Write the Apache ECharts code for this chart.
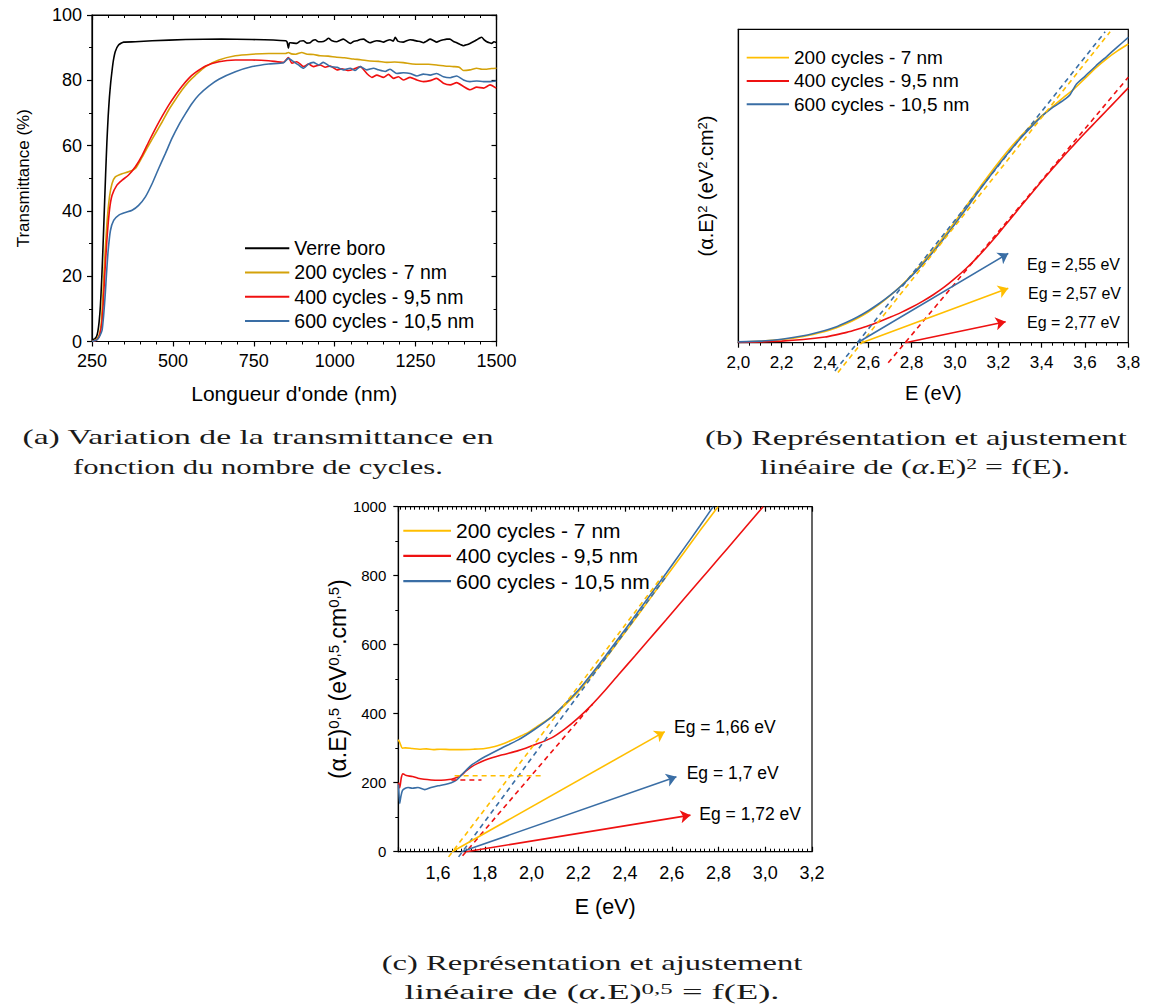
<!DOCTYPE html>
<html><head><meta charset="utf-8">
<script src="https://cdn.jsdelivr.net/npm/echarts@6/dist/echarts.min.js"></script>
<style>html,body{margin:0;padding:0;background:#fff;}#c{width:1150px;height:1006px;}</style>
</head><body><div id="c"></div>
<script>
// ---------- (a) Transmittance vs wavelength ----------
const aGlassX = [250,258,264,268,272,276,280,284,288,292,296,300,304,308,312,316,322,332,348,384,436,540,650,745,848,853,857,860,863,883,893,903,914,924,932,940,950,965,973,981,990,1006,1017,1027,1037,1048,1058,1068,1079,1089,1099,1109,1120,1130,1140,1151,1160,1171,1181,1187,1195,1212,1222,1233,1243,1254,1264,1274,1284,1295,1305,1315,1325,1336,1346,1356,1367,1377,1387,1398,1408,1418,1428,1439,1447,1454,1462,1470,1478,1485,1492,1500];
const aGlassY = [0.5,0.8,1.5,3,6,11,19,29,40,51,61,69,75,79.5,83,86,88.8,90.8,91.7,91.8,92.1,92.5,92.6,92.5,92.1,91.7,89.8,91.4,91.5,91.3,92.0,92.1,91.4,91.5,92.2,92.4,91.8,91.9,92.3,92.9,92.2,91.8,92.3,92.6,92.0,91.3,91.9,92.1,92.5,92.6,92.0,91.5,91.9,92.1,92.0,91.7,92.1,92.4,92.0,93.2,92.0,91.7,92.1,92.4,92.3,92.0,91.9,91.5,92.0,92.6,92.2,91.7,92.1,92.4,92.6,92.6,91.9,91.5,91.0,90.6,90.9,91.3,91.8,92.4,92.9,93.2,92.4,91.8,91.5,91.3,91.8,91.6];
const a200X = [250,262,272,278,281,285,289,296,304,312,322,343,363,384,405,425,446,467,487,508,528,549,570,601,642,693,745,796,848,857,866,880,898,915,935,955,980,1006,1030,1058,1080,1109,1135,1161,1185,1212,1240,1264,1290,1315,1340,1367,1385,1398,1418,1439,1455,1470,1485,1500];
const a200Y = [0,0.5,2,5,9.5,17,24.8,36,44.3,48.4,50.4,51.4,52,53,56.5,60.1,63.7,67.3,70.9,74.1,77,79.6,81.6,84.2,86.2,87.5,88,88.2,88.2,88.5,88.1,88.0,88.5,88.0,87.9,87.5,87.4,87.05,86.9,86.5,86.3,85.9,85.8,85.5,85.6,85.4,85.0,84.9,84.9,84.7,84.4,84.2,84.0,83.0,83.2,83.7,83.4,83.4,83.6,83.7];
const a400X = [250,262,272,278,281,285,289,296,304,312,327,343,363,384,405,425,446,467,487,508,528,549,570,601,642,693,745,796,842,857,868,883,904,919,934,955,971,986,1007,1022,1043,1058,1079,1099,1115,1130,1151,1166,1182,1197,1212,1233,1254,1274,1295,1315,1336,1357,1377,1398,1418,1439,1460,1480,1499];
const a400Y = [0,0.3,1.5,4,6.4,12,19.7,31,40.2,44.8,47.9,49.4,51,53.5,57,61.1,65.2,69,72.4,75.5,78.2,80.6,82.4,84.4,85.7,86.2,86.2,86,85.5,87.0,85.2,85.7,84.2,85.0,84.2,84.7,84.0,84.4,83.2,83.5,83.0,83.4,84.2,82.1,80.9,81.6,80.9,81.8,80.6,81.1,80.1,80.9,80.1,79.6,79.9,80.6,79.1,78.6,79.3,78.1,77.1,77.9,77.6,78.6,77.6];
const a600X = [250,265,273,281,286,291,295,300,307,317,333,353,374,394,415,436,456,477,497,518,539,559,580,611,642,693,745,796,842,857,873,888,904,919,934,950,965,986,1007,1027,1048,1063,1079,1099,1120,1135,1156,1171,1192,1212,1233,1254,1274,1295,1315,1336,1357,1377,1398,1418,1439,1460,1480,1499];
const a600Y = [0,0.5,1.5,3.4,8,14.6,21,27.9,34,37.1,38.7,39.5,40.2,41.7,44.3,48.4,53,57.6,62.2,66.3,69.8,72.9,75.5,78.2,80.3,82.6,84.2,85,85.4,86.7,85.7,84.7,83.7,85.0,85.5,84.7,85.5,84.2,84.0,83.2,83.7,83.0,84.2,83.2,83.7,83.2,82.7,83.4,82.1,82.3,82.1,81.3,81.9,81.6,82.1,81.1,80.8,81.3,80.1,79.6,79.8,79.6,79.6,79.8];

// ---------- (b) (alpha.E)^2 vs E (arbitrary units) ----------
const bE = [2.0,2.1,2.2,2.3,2.4,2.45,2.5,2.55,2.6,2.65,2.7,2.75,2.8,2.85,2.9,2.95,3.0,3.05,3.1,3.15,3.2,3.25,3.3,3.35,3.4,3.45,3.5,3.55,3.6,3.65,3.7,3.75,3.8];
const b200Y = [0.2,0.45,1.0,2.0,3.6,4.7,6.1,7.8,9.8,12.2,15.0,18.1,21.6,25.5,29.6,34.0,38.6,43.4,48.2,52.9,57.4,61.7,65.6,69.2,72.4,75.3,78.2,81.0,84.3,87.7,90.6,93.1,95.3];
const b400Y = [0.1,0.25,0.5,1.0,1.8,2.5,3.3,4.3,5.4,6.7,8.1,9.6,11.3,13.2,15.3,17.7,20.5,23.6,27.0,30.8,34.8,39.0,43.2,47.4,51.5,55.5,59.4,63.2,66.9,70.5,74.1,77.7,81.3];
const b600E = [2.0,2.1,2.2,2.3,2.4,2.45,2.5,2.55,2.6,2.65,2.7,2.75,2.8,2.85,2.9,2.95,3.0,3.05,3.1,3.15,3.2,3.25,3.3,3.35,3.4,3.45,3.5,3.53,3.56,3.6,3.65,3.7,3.75,3.8];
const b600Y = [0.25,0.5,1.1,2.2,3.9,5.0,6.5,8.2,10.2,12.5,15.1,18.0,21.3,25.0,29.0,33.3,37.9,42.6,47.4,52.1,56.6,60.9,65.0,68.7,72.2,75.0,77.3,79.0,82.5,85.0,88.3,91.3,94.4,97.4];
// linear fits [[E1,Y1],[E2,Y2]]
const bFit200 = [[2.46,-9.5],[3.716,99.2]];
const bFit400 = [[2.692,-6.4],[3.8,84.7]];
const bFit600 = [[2.446,-9.0],[3.693,99.2]];
const bArrow200 = [[2.57,0],[3.246,17.4]];
const bArrow400 = [[2.77,0],[3.234,6.7]];
const bArrow600 = [[2.55,0],[3.246,28.5]];
const bEgLabels = ['Eg = 2,55 eV','Eg = 2,57 eV','Eg = 2,77 eV'];

// ---------- (c) (alpha.E)^0.5 vs E ----------
const c200E = [1.429,1.434,1.44,1.447,1.46,1.49,1.52,1.55,1.58,1.61,1.657,1.7,1.75,1.8,1.843,1.87,1.9,1.943,1.986,2.029,2.086,2.143,2.2,2.257,2.314,2.371,2.435,2.5,2.577,2.65,2.72,2.798];
const c200Y = [324,320,310,300,301,299,297,298,296,297,296,296,297,299,305,311,319,332,346,365,391,425,464,510,558,609,667,727,798,865,930,1000];
const c400E = [1.431,1.436,1.443,1.45,1.46,1.47,1.49,1.514,1.54,1.57,1.6,1.63,1.657,1.68,1.7,1.72,1.743,1.77,1.8,1.871,1.943,2.014,2.086,2.143,2.2,2.257,2.314,2.371,2.443,2.5,2.577,2.65,2.72,2.8,2.88,2.991];
const c400Y = [200,185,215,226,222,220,218,213,210,208,207,208,210,215,222,234,246,256,265,280,293,310,330,356,388,425,467,512,568,613,673,731,786,849,912,1000];
const c600E = [1.431,1.436,1.441,1.448,1.46,1.472,1.49,1.514,1.543,1.57,1.6,1.63,1.657,1.68,1.7,1.72,1.743,1.77,1.8,1.871,1.943,2.014,2.086,2.143,2.2,2.257,2.314,2.371,2.435,2.5,2.577,2.65,2.72,2.777];
const c600Y = [195,140,160,178,184,186,184,186,180,186,191,195,200,208,222,236,251,263,275,300,324,355,391,428,468,515,565,617,676,737,808,877,944,1000];
const cFit200 = [[1.645,-15],[2.561,800]];
const cFit400 = [[1.705,-12],[2.26,427]];
const cFit600 = [[1.688,-15],[2.578,800]];
const cFlat200 = [[1.671,220],[2.049,220]];
const cFlat400 = [[1.657,208],[1.786,208]];
const cArrow200 = [[1.66,0],[2.57,348]];
const cArrow400 = [[1.72,0],[2.68,106]];
const cArrow600 = [[1.70,0],[2.62,217]];
const cEgLabels = ['Eg = 1,66 eV','Eg = 1,7 eV','Eg = 1,72 eV'];

const names = ['Verre boro','200 cycles - 7 nm','400 cycles - 9,5 nm','600 cycles - 10,5 nm'];

// ---------- styling ----------
const FONT = '"Liberation Sans", Arial, sans-serif';
const SERIF = '"Liberation Serif", "Times New Roman", serif';
const colA = {k:'#000000', y:'#D4A20A', r:'#F01010', b:'#3A6EA5'};
const colB = {y:'#FFBE00', r:'#EE1111', b:'#3A6EA5'};
const zip = (xs, ys) => xs.map((x, i) => [x, ys[i]]);
const axLine = {color:'#000', width:1.2};
const LINE_ICON = 'path://M0 0H60V2.7H0Z';

function curve(name, data, color, xi, yi, sm) {
  return {type:'line', name, data, xAxisIndex:xi, yAxisIndex:yi, symbol:'none', showSymbol:false,
    smooth:sm, lineStyle:{color, width:1.6}, itemStyle:{color}, animation:false, z:3};
}
function dashed(data, color, xi, yi) {
  return {type:'line', data, xAxisIndex:xi, yAxisIndex:yi, symbol:'none', showSymbol:false, clip:false,
    lineStyle:{color, width:1.6, type:[5,4]}, itemStyle:{color}, animation:false, silent:true, z:4};
}
function arrow(data, color, xi, yi) {
  return {type:'lines', coordinateSystem:'cartesian2d', xAxisIndex:xi, yAxisIndex:yi, symbol:['none','arrow'],
    symbolSize:10, lineStyle:{color, width:1.6, opacity:1, curveness:0}, itemStyle:{color},
    data:[{coords:data}], animation:false, silent:true, z:5};
}
const commaFmt = v => v.toFixed(1).replace('.', ',');
const intFmt = v => String(Math.round(v));
const minorLine = {color:'#000', width:1};

function tickAxis(extra) {
  return Object.assign({
    type:'value', splitLine:{show:false}, minorSplitLine:{show:false},
    axisLine:{show:true, onZero:false, lineStyle:axLine},
  }, extra);
}
function legendItem(name, color) {
  return {name, icon:LINE_ICON, itemStyle:{color, borderWidth:0}, lineStyle:{color, width:0}};
}

const option = {
  animation:false,
  backgroundColor:'#fff',
  grid:[
    {left:92, top:15, width:404.5, height:326.5, show:true, borderColor:'#000', borderWidth:1.2, backgroundColor:'transparent'},
    {left:738.3, top:29.3, width:390, height:313.4, show:true, borderColor:'#000', borderWidth:1.2, backgroundColor:'transparent'},
    {left:398.3, top:506.7, width:413.7, height:345, show:true, borderColor:'#000', borderWidth:1.2, backgroundColor:'transparent'}
  ],
  xAxis:[
    tickAxis({gridIndex:0, position:'bottom', min:250, max:1500, interval:250,
      axisTick:{show:true, length:5, lineStyle:axLine}, minorTick:{show:true, splitNumber:5, length:3, lineStyle:minorLine},
      axisLabel:{fontSize:18, fontFamily:FONT, color:'#000', margin:10, formatter:intFmt},
      name:"Longueur d'onde (nm)", nameLocation:'middle', nameGap:41, nameTextStyle:{fontSize:21, fontFamily:FONT, color:'#000'}}),
    tickAxis({gridIndex:0, position:'top', min:250, max:1500, interval:250,
      axisTick:{show:true, inside:true, length:5, lineStyle:axLine}, minorTick:{show:true, splitNumber:5, length:3, lineStyle:minorLine},
      axisLabel:{show:false}}),
    tickAxis({gridIndex:1, position:'bottom', min:2.0, max:3.8, interval:0.2,
      axisTick:{show:true, length:5, lineStyle:axLine}, minorTick:{show:true, splitNumber:4, length:3, lineStyle:minorLine},
      axisLabel:{fontSize:17, fontFamily:FONT, color:'#000', margin:11, formatter:commaFmt},
      name:'E (eV)', nameLocation:'middle', nameGap:40, nameTextStyle:{fontSize:20, fontFamily:FONT, color:'#000'}}),
    tickAxis({gridIndex:2, position:'bottom', min:1.43, max:3.2, splitNumber:9,
      axisTick:{show:true, inside:true, length:5, lineStyle:axLine}, minorTick:{show:true, splitNumber:10, length:3, lineStyle:minorLine},
      axisLabel:{fontSize:18, fontFamily:FONT, color:'#000', margin:12, formatter:commaFmt, showMinLabel:false},
      name:'E (eV)', nameLocation:'middle', nameGap:44, nameTextStyle:{fontSize:21.5, fontFamily:FONT, color:'#000'}}),
    tickAxis({gridIndex:2, position:'top', min:1.43, max:3.2, splitNumber:9,
      axisTick:{show:true, inside:true, length:5, lineStyle:axLine}, minorTick:{show:true, splitNumber:10, length:3, lineStyle:minorLine},
      axisLabel:{show:false}})
  ],
  yAxis:[
    tickAxis({gridIndex:0, position:'left', min:0, max:100, interval:20,
      axisTick:{show:true, length:5, lineStyle:axLine}, minorTick:{show:true, splitNumber:2, length:3, lineStyle:minorLine},
      axisLabel:{fontSize:18, fontFamily:FONT, color:'#000', margin:10, formatter:intFmt},
      name:'Transmittance (%)', nameLocation:'middle', nameGap:60, nameTextStyle:{fontSize:17, fontFamily:FONT, color:'#000'}}),
    tickAxis({gridIndex:0, position:'right', min:0, max:100, interval:20,
      axisTick:{show:true, inside:true, length:5, lineStyle:axLine}, minorTick:{show:true, splitNumber:2, length:3, lineStyle:minorLine},
      axisLabel:{show:false}}),
    tickAxis({gridIndex:1, position:'left', min:0, max:100,
      axisTick:{show:false}, minorTick:{show:false}, axisLabel:{show:false},
      name:'(α.E){s|2} (eV{s|2}.cm{s|2})', nameLocation:'middle', nameGap:22,
      nameTextStyle:{fontSize:20, fontFamily:FONT, color:'#000',
        rich:{s:{fontSize:13, fontFamily:FONT, color:'#000', verticalAlign:'top', lineHeight:12}}}}),
    tickAxis({gridIndex:2, position:'left', min:0, max:1000, interval:200,
      axisTick:{show:true, length:5, lineStyle:axLine}, minorTick:{show:true, splitNumber:2, length:3, lineStyle:minorLine},
      axisLabel:{fontSize:15, fontFamily:FONT, color:'#000', margin:12, formatter:intFmt},
      name:'(α.E){s|0,5} (eV{s|0,5}.cm{s|0,5})', nameLocation:'middle', nameGap:46,
      nameTextStyle:{fontSize:23, fontFamily:FONT, color:'#000',
        rich:{s:{fontSize:15, fontFamily:FONT, color:'#000', verticalAlign:'top', lineHeight:13}}}})
  ],
  legend:[
    {orient:'vertical', left:245, top:236.2, itemWidth:44.3, itemHeight:24.2, itemGap:0, padding:0,
      selectedMode:false, textStyle:{fontSize:19.5, fontFamily:FONT, color:'#000', lineHeight:24.2},
      data:[legendItem(names[0], colA.k), legendItem(names[1], colA.y), legendItem(names[2], colA.r), legendItem(names[3], colA.b)]},
    {orient:'vertical', left:746.7, top:46, itemWidth:42.3, itemHeight:23.3, itemGap:0, padding:0,
      selectedMode:false, textStyle:{fontSize:19, fontFamily:FONT, color:'#000', lineHeight:23.3},
      data:[legendItem(names[1], colB.y), legendItem(names[2], colB.r), legendItem(names[3], colB.b)]},
    {orient:'vertical', left:403.3, top:518.1, itemWidth:47.7, itemHeight:25.2, itemGap:0, padding:0,
      selectedMode:false, textStyle:{fontSize:21, fontFamily:FONT, color:'#000', lineHeight:25.2},
      data:[legendItem(names[1], colB.y), legendItem(names[2], colB.r), legendItem(names[3], colB.b)]}
  ],
  series:[
    curve(names[0], zip(aGlassX, aGlassY), colA.k, 0, 0, 0.2),
    curve(names[1], zip(a200X, a200Y), colA.y, 0, 0, 0.2),
    curve(names[2], zip(a400X, a400Y), colA.r, 0, 0, 0.2),
    curve(names[3], zip(a600X, a600Y), colA.b, 0, 0, 0.2),

    curve(names[1], zip(bE, b200Y), colB.y, 2, 2, 0.15),
    curve(names[2], zip(bE, b400Y), colB.r, 2, 2, 0.15),
    curve(names[3], zip(b600E, b600Y), colB.b, 2, 2, 0.15),
    dashed(bFit200, colB.y, 2, 2),
    dashed(bFit400, colB.r, 2, 2),
    dashed(bFit600, colB.b, 2, 2),
    arrow(bArrow600, colB.b, 2, 2),
    arrow(bArrow200, colB.y, 2, 2),
    arrow(bArrow400, colB.r, 2, 2),

    curve(names[1], zip(c200E, c200Y), colB.y, 3, 3, 0.25),
    curve(names[2], zip(c400E, c400Y), colB.r, 3, 3, 0.25),
    curve(names[3], zip(c600E, c600Y), colB.b, 3, 3, 0.25),
    dashed(cFit200, colB.y, 3, 3),
    dashed(cFit600, colB.b, 3, 3),
    dashed(cFit400, colB.r, 3, 3),
    dashed(cFlat200, colB.y, 3, 3),
    dashed(cFlat400, colB.r, 3, 3),
    arrow(cArrow200, colB.y, 3, 3),
    arrow(cArrow600, colB.b, 3, 3),
    arrow(cArrow400, colB.r, 3, 3)
  ],
  graphic:[]
};

// Eg annotations
const egB = [[1027, 264.3], [1028, 293.3], [1027, 322.7]];
bEgLabels.forEach((t, i) => option.graphic.push({type:'text', x:egB[i][0], y:egB[i][1], silent:true,
  style:{text:t, fontSize:16, fontFamily:FONT, fill:'#000', align:'left', verticalAlign:'middle'}}));
const egC = [[674, 726.7], [686.7, 772.7], [699.3, 814]];
cEgLabels.forEach((t, i) => option.graphic.push({type:'text', x:egC[i][0], y:egC[i][1], silent:true,
  style:{text:t, fontSize:17.5, fontFamily:FONT, fill:'#000', align:'left', verticalAlign:'middle'}}));

// captions: [text, centerX, centerY, targetWidth]
const CAP_SIZE = 22, SUP_SIZE = 15;
const capRich = {
  i:{fontStyle:'italic', fontSize:CAP_SIZE, fontFamily:SERIF, fill:'#1a1a1a'},
  s:{fontSize:SUP_SIZE, fontFamily:SERIF, fill:'#1a1a1a', verticalAlign:'top', lineHeight:14}
};
const captions = [
  ['(a) Variation de la transmittance en', 258, 437, 472],
  ['fonction du nombre de cycles.', 258, 467, 370],
  ['(b) Représentation et ajustement', 916, 437, 422],
  ['linéaire de ({i|α}.E){s|2} = f(E).', 915, 467, 310],
  ['(c) Représentation et ajustement', 592, 962, 421],
  ['linéaire de ({i|α}.E){s|0,5} = f(E).', 592, 992, 375]
];
const mctx = document.createElement('canvas').getContext('2d');
function measureRich(str) {
  let w = 0;
  const re = /\{(\w)\|([^}]*)\}|([^{]+)/g; let m;
  while ((m = re.exec(str))) {
    if (m[3]) { mctx.font = CAP_SIZE + 'px ' + SERIF; w += mctx.measureText(m[3]).width; }
    else if (m[1] === 'i') { mctx.font = 'italic ' + CAP_SIZE + 'px ' + SERIF; w += mctx.measureText(m[2]).width; }
    else { mctx.font = SUP_SIZE + 'px ' + SERIF; w += mctx.measureText(m[2]).width; }
  }
  return w;
}
captions.forEach(c => {
  const sx = c[3] / measureRich(c[0]);
  option.graphic.push({type:'text', x:c[1], y:c[2], scaleX:sx, silent:true,
    style:{text:c[0], fontSize:CAP_SIZE, fontFamily:SERIF, fill:'#1a1a1a', align:'center', verticalAlign:'middle', rich:capRich}});
});

const chart = echarts.init(document.getElementById('c'), null, {renderer:'svg', width:1150, height:1006});
chart.setOption(option);
</script></body></html>
